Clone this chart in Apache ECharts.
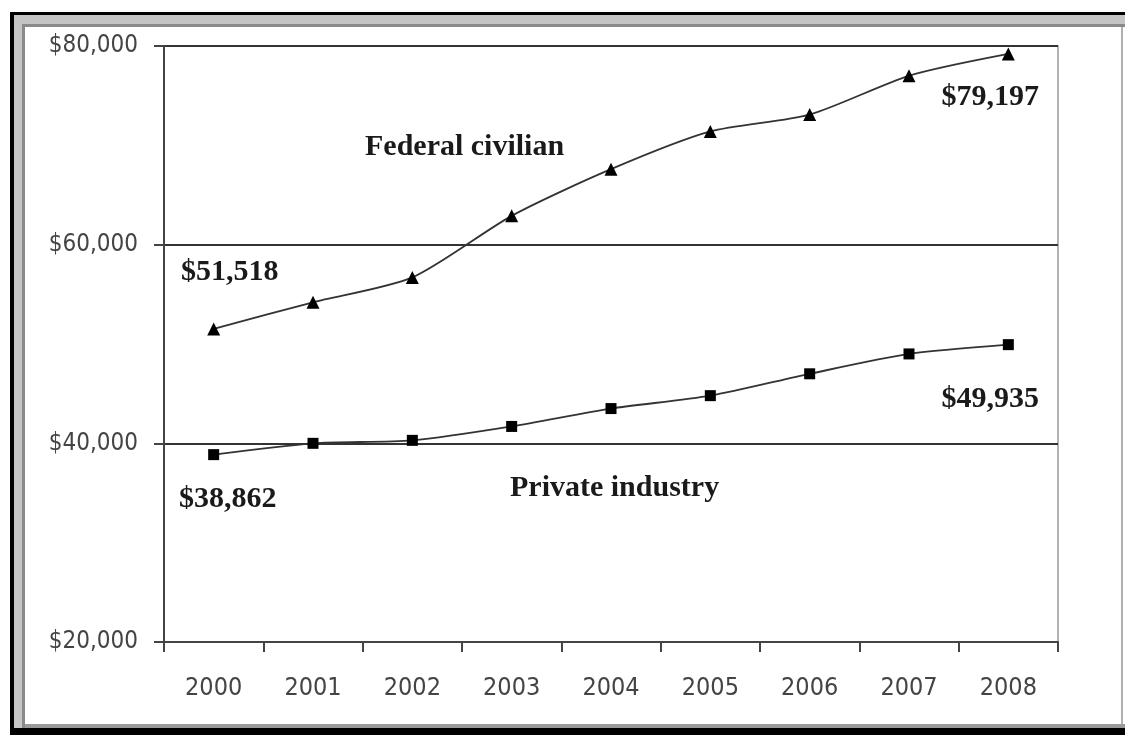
<!DOCTYPE html>
<html>
<head>
<meta charset="utf-8">
<script src="https://cdn.jsdelivr.net/npm/echarts@6/dist/echarts.min.js"></script>
<style>
html,body{margin:0;padding:0;background:#fff;}
#chart{width:1125px;height:735px;}
</style>
</head>
<body>
<div id="chart"></div>
<script>
const years = ['2000','2001','2002','2003','2004','2005','2006','2007','2008'];
const federalCivilian = [51518, 54200, 56700, 62900, 67600, 71400, 73100, 77000, 79197];
const privateIndustry = [38862, 40000, 40300, 41700, 43500, 44800, 47000, 49000, 49935];
const yTicks = [20000, 40000, 60000, 80000];
const seriesNames = ['Federal civilian', 'Private industry'];

const fmt = v => '$' + v.toLocaleString('en-US');
const chart = echarts.init(document.getElementById('chart'));

const labelFont = {fontFamily: "'Liberation Serif','Times New Roman',serif", fontWeight: 'bold', fontSize: 30, color: '#1a1a1a'};
const axisFont = "'Liberation Sans Narrow','Arial Narrow','DejaVu Sans Condensed',sans-serif";

function endLabel(txt, offset) {
  return {show: true, formatter: txt, position: 'inside', offset: offset, ...labelFont};
}

const fedData = federalCivilian.map((v, i) => {
  if (i === 0) return {value: v, label: endLabel(fmt(v), [16, -57])};
  if (i === federalCivilian.length - 1) return {value: v, label: endLabel(fmt(v), [-18, 43])};
  return v;
});
const privData = privateIndustry.map((v, i) => {
  if (i === 0) return {value: v, label: endLabel(fmt(v), [14, 45])};
  if (i === privateIndustry.length - 1) return {value: v, label: endLabel(fmt(v), [-18, 55])};
  return v;
});

const frame = [
  {type: 'rect', shape: {x: 14, y: 15, width: 1111, height: 12}, style: {fill: '#c4c4c4'}},
  {type: 'rect', shape: {x: 14, y: 15, width: 11, height: 713}, style: {fill: '#c4c4c4'}},
  {type: 'rect', shape: {x: 22, y: 24, width: 1103, height: 3}, style: {fill: '#8a8a8a'}},
  {type: 'rect', shape: {x: 22, y: 24, width: 3, height: 704}, style: {fill: '#8a8a8a'}},
  {type: 'rect', shape: {x: 25, y: 724, width: 1100, height: 4}, style: {fill: '#9a9a9a'}},
  {type: 'rect', shape: {x: 1121, y: 27, width: 2, height: 697}, style: {fill: '#b0b0b0'}},
  {type: 'rect', shape: {x: 10, y: 12, width: 1115, height: 3}, style: {fill: '#000'}},
  {type: 'rect', shape: {x: 10, y: 12, width: 4, height: 723}, style: {fill: '#000'}},
  {type: 'rect', shape: {x: 10, y: 728, width: 1115, height: 7}, style: {fill: '#000'}},
  {type: 'text', left: 365, top: 132, style: {text: seriesNames[0], font: "bold 30px 'Liberation Serif', serif", fill: '#1a1a1a'}},
  {type: 'text', left: 510, top: 473, style: {text: seriesNames[1], font: "bold 30px 'Liberation Serif', serif", fill: '#1a1a1a'}}
];

chart.setOption({
  animation: false,
  backgroundColor: '#fff',
  graphic: frame,
  grid: {left: 164, right: 67, top: 46, bottom: 93, show: true, borderColor: '#9a9a9a', borderWidth: 1.5, backgroundColor: 'transparent'},
  xAxis: {
    type: 'category',
    data: years,
    boundaryGap: true,
    axisLine: {show: true, lineStyle: {color: '#444', width: 2}},
    axisTick: {show: true, alignWithLabel: false, length: 10, lineStyle: {color: '#444', width: 2}},
    axisLabel: {fontFamily: axisFont, fontSize: 25, color: '#444', margin: 34}
  },
  yAxis: {
    type: 'value',
    min: 20000, max: 80000, interval: 20000,
    axisLine: {show: true, lineStyle: {color: '#444', width: 2}},
    axisTick: {show: true, length: 10, lineStyle: {color: '#444', width: 2}},
    axisLabel: {fontFamily: axisFont, fontSize: 24, color: '#444', margin: 26,
      formatter: v => yTicks.includes(v) ? fmt(v) : ''},
    splitLine: {show: true, lineStyle: {color: '#333', width: 2}}
  },
  series: [
    {name: seriesNames[0], type: 'line', data: fedData, smooth: 0.25,
     symbol: 'triangle', symbolSize: 13, itemStyle: {color: '#000'},
     lineStyle: {color: '#333', width: 1.8}},
    {name: seriesNames[1], type: 'line', data: privData, smooth: 0.25,
     symbol: 'rect', symbolSize: 11, itemStyle: {color: '#000'},
     lineStyle: {color: '#333', width: 1.8}}
  ]
});
</script>
</body>
</html>
